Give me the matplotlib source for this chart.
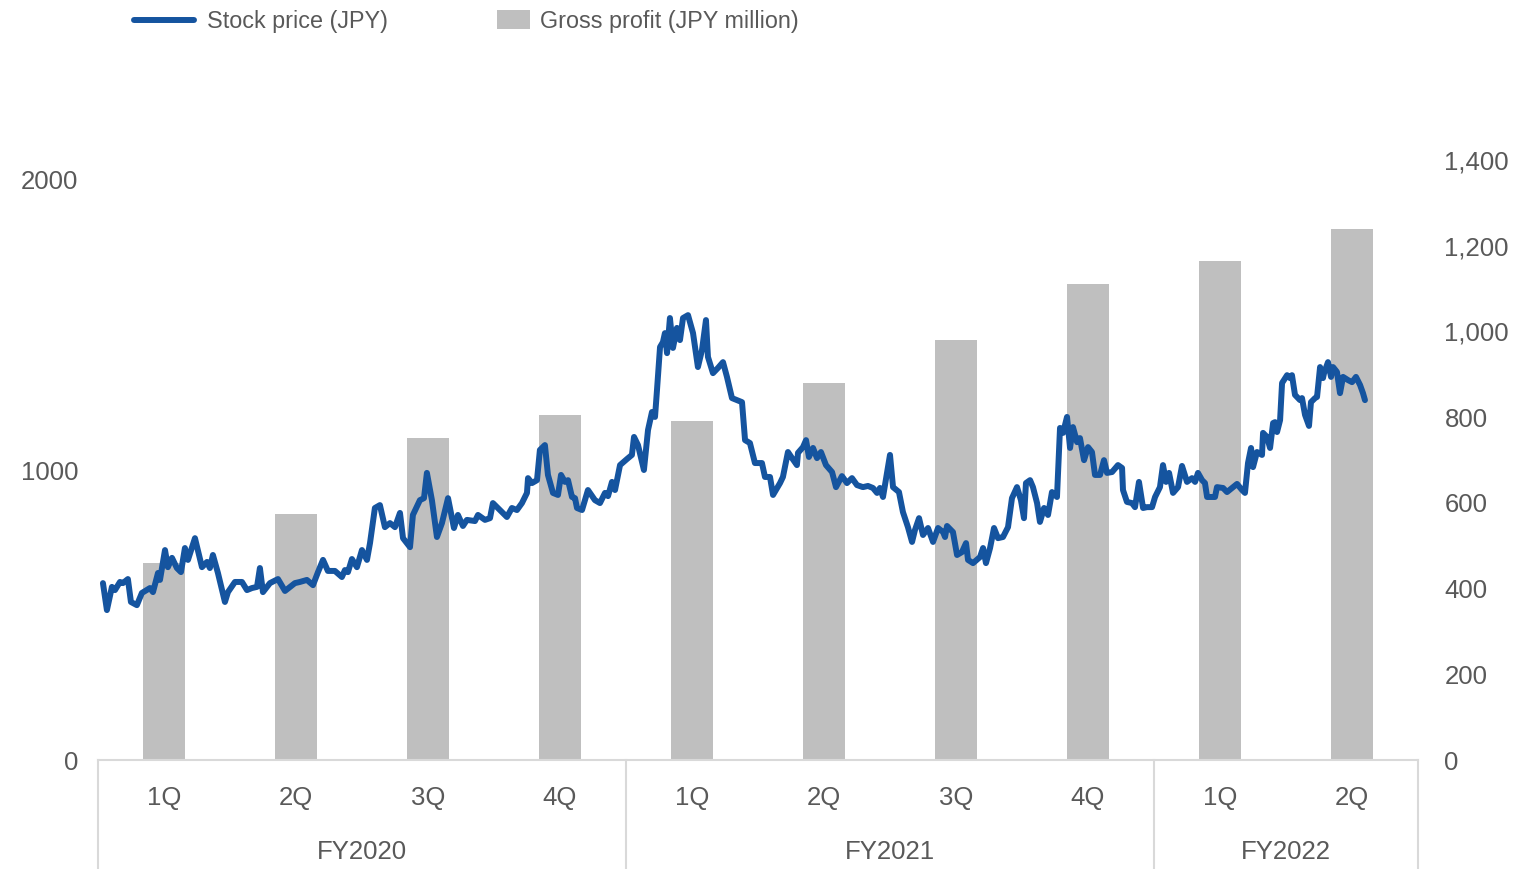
import matplotlib
matplotlib.use("Agg")
import matplotlib.pyplot as plt
from matplotlib.ticker import FuncFormatter

# quarterly gross profit (JPY million)
quarters = ["1Q", "2Q", "3Q", "4Q", "1Q", "2Q", "3Q", "4Q", "1Q", "2Q"]
fiscal_years = ["FY2020", "FY2021", "FY2022"]
fy_spans = [(0, 3), (4, 7), (8, 9)]
gross_profit = [460, 574, 751, 805, 791, 880, 980, 1111, 1164, 1239]

# stock price (JPY), time measured in quarters from the start of FY2020 1Q
price_t = [0.038, 0.068, 0.106, 0.129, 0.167, 0.189, 0.227, 0.250, 0.295, 0.333,
           0.394, 0.417, 0.455, 0.470, 0.508, 0.530, 0.561, 0.598, 0.629, 0.659,
           0.682, 0.735, 0.788, 0.826, 0.848, 0.871, 0.909, 0.962, 0.985, 1.038,
           1.091, 1.129, 1.167, 1.205, 1.227, 1.250, 1.303, 1.364, 1.417, 1.492,
           1.530, 1.583, 1.629, 1.667, 1.705, 1.742, 1.795, 1.848, 1.871, 1.894,
           1.924, 1.962, 2.000, 2.038, 2.061, 2.098, 2.136, 2.174, 2.212, 2.250,
           2.288, 2.311, 2.364, 2.386, 2.439, 2.470, 2.492, 2.530, 2.568, 2.606,
           2.652, 2.697, 2.727, 2.765, 2.795, 2.856, 2.879, 2.932, 2.970, 2.992,
           3.045, 3.098, 3.136, 3.174, 3.212, 3.250, 3.258, 3.288, 3.326, 3.348,
           3.386, 3.409, 3.447, 3.485, 3.508, 3.538, 3.561, 3.591, 3.614, 3.629,
           3.667, 3.712, 3.765, 3.803, 3.841, 3.864, 3.894, 3.917, 3.955, 4.008,
           4.045, 4.061, 4.091, 4.136, 4.167, 4.197, 4.220, 4.235, 4.258, 4.280,
           4.295, 4.311, 4.333, 4.356, 4.386, 4.409, 4.432, 4.470, 4.508, 4.545,
           4.576, 4.606, 4.621, 4.659, 4.697, 4.735, 4.765, 4.803, 4.841, 4.879,
           4.902, 4.939, 4.977, 5.030, 5.053, 5.091, 5.114, 5.167, 5.189, 5.227,
           5.258, 5.295, 5.303, 5.341, 5.364, 5.386, 5.417, 5.447, 5.477, 5.515,
           5.561, 5.591, 5.636, 5.674, 5.712, 5.750, 5.795, 5.833, 5.871, 5.902,
           5.924, 5.947, 6.000, 6.023, 6.068, 6.098, 6.136, 6.167, 6.189, 6.220,
           6.250, 6.288, 6.326, 6.364, 6.402, 6.417, 6.432, 6.477, 6.508, 6.545,
           6.576, 6.591, 6.629, 6.682, 6.705, 6.727, 6.758, 6.788, 6.818, 6.856,
           6.894, 6.924, 6.962, 6.992, 7.015, 7.030, 7.061, 7.083, 7.114, 7.136,
           7.167, 7.197, 7.227, 7.265, 7.288, 7.311, 7.341, 7.364, 7.386, 7.417,
           7.439, 7.470, 7.500, 7.530, 7.553, 7.591, 7.621, 7.644, 7.682, 7.727,
           7.758, 7.765, 7.795, 7.833, 7.856, 7.886, 7.917, 7.947, 7.985, 8.008,
           8.045, 8.068, 8.091, 8.114, 8.144, 8.182, 8.212, 8.250, 8.288, 8.311,
           8.333, 8.364, 8.386, 8.402, 8.462, 8.477, 8.523, 8.553, 8.591, 8.629,
           8.667, 8.689, 8.712, 8.735, 8.750, 8.780, 8.818, 8.826, 8.856, 8.879,
           8.902, 8.917, 8.932, 8.955, 8.970, 9.008, 9.030, 9.045, 9.068, 9.106,
           9.121, 9.144, 9.174, 9.189, 9.220, 9.235, 9.258, 9.280, 9.288, 9.318,
           9.341, 9.356, 9.386, 9.409, 9.432, 9.470, 9.500, 9.530, 9.561, 9.583,
           9.598]
price = [610, 517, 597, 586, 614, 610, 624, 545, 534, 576,
         593, 579, 645, 621, 724, 665, 697, 662, 648, 731,
         690, 765, 665, 683, 662, 707, 645, 545, 579, 614,
         614, 586, 593, 597, 662, 579, 610, 624, 583, 610,
         614, 621, 603, 648, 690, 652, 652, 631, 655, 648,
         693, 665, 724, 690, 748, 869, 879, 803, 817, 803,
         852, 765, 734, 845, 896, 903, 990, 896, 769, 817,
         903, 800, 845, 807, 828, 824, 845, 828, 834, 886,
         862, 838, 869, 862, 886, 921, 972, 955, 965, 1069,
         1086, 983, 921, 914, 983, 959, 965, 907, 903, 869,
         862, 931, 896, 886, 921, 910, 959, 931, 1017, 1038,
         1052, 1114, 1086, 1000, 1138, 1200, 1183, 1276, 1424, 1441,
         1472, 1403, 1524, 1421, 1490, 1448, 1524, 1534, 1472, 1355,
         1414, 1517, 1390, 1334, 1352, 1372, 1321, 1248, 1241, 1234,
         1103, 1093, 1024, 1024, 976, 976, 914, 955, 976, 1062,
         1041, 1017, 1059, 1079, 1103, 1045, 1076, 1041, 1062, 1017,
         993, 941, 979, 955, 972, 948, 941, 945, 938, 921,
         938, 907, 1052, 941, 924, 855, 803, 752, 793, 834,
         776, 800, 752, 800, 786, 769, 807, 786, 707, 717,
         748, 690, 679, 700, 731, 679, 731, 800, 765, 769,
         803, 903, 941, 896, 834, 955, 965, 941, 886, 821,
         869, 845, 924, 907, 1145, 1128, 1183, 1076, 1148, 1096,
         1110, 1034, 1079, 1062, 983, 983, 1034, 990, 993, 1017,
         1007, 931, 890, 886, 872, 959, 869, 872, 872, 907,
         941, 1017, 959, 990, 921, 941, 1014, 959, 972, 959,
         990, 965, 955, 907, 907, 941, 938, 924, 938, 952,
         931, 921, 1024, 1076, 1010, 1062, 1052, 1128, 1114, 1076,
         1162, 1165, 1131, 1172, 1300, 1327, 1317, 1327, 1259, 1241,
         1248, 1190, 1152, 1234, 1248, 1252, 1355, 1317, 1334, 1372,
         1321, 1355, 1338, 1265, 1321, 1310, 1303, 1321, 1293, 1265,
         1241]

txt_color = "#595959"
bar_color = "#BFBFBF"
line_color = "#15549F"
grid_color = "#D9D9D9"

plt.rcParams['font.family'] = ['Liberation Sans', 'DejaVu Sans']

fig = plt.figure(figsize=(15.35, 8.69), dpi=100)
ax = fig.add_axes([0.0638, 0.1254, 0.8600, 0.6905])
ax2 = ax.twinx()

xs = list(range(len(quarters)))
bars = ax2.bar(xs, gross_profit, width=0.32, color=bar_color, label="Gross profit (JPY million)")
line_x = [t - 0.5 for t in price_t]
ln, = ax.plot(line_x, price, color=line_color, lw=4.3, solid_joinstyle="round",
              solid_capstyle="round", label="Stock price (JPY)")

ax.set_zorder(ax2.get_zorder() + 1)
ax.patch.set_visible(False)

ax.set_xlim(-0.5, 9.5)
ax.set_ylim(0, 2069)
ax2.set_ylim(0, 1400)
ax.set_yticks([0, 1000, 2000])
ax2.set_yticks(range(0, 1401, 200))
ax2.yaxis.set_major_formatter(FuncFormatter(lambda v, p: f"{int(v):,}"))

for a in (ax, ax2):
    for s in a.spines.values():
        s.set_visible(False)
    a.tick_params(length=0, colors=txt_color, labelsize=18.5)
ax.tick_params(axis="y", pad=14)
ax2.tick_params(axis="y", pad=19)
ax.set_xticks([])

# multi-level category axis
trans = ax.get_xaxis_transform()
ax.plot([-0.5, 9.5], [0, 0], color=grid_color, lw=1.5, transform=trans, clip_on=False)
for xb in [-0.5, 3.5, 7.5, 9.5]:
    ax.plot([xb, xb], [0, -0.18], color=grid_color, lw=1.5, transform=trans, clip_on=False)
for i, q in enumerate(quarters):
    ax.text(i, -0.063, q, transform=trans, ha="center", va="center", fontsize=18.5, color=txt_color)
for fy, (a0, a1) in zip(fiscal_years, fy_spans):
    ax.text((a0 + a1) / 2, -0.154, fy, transform=trans, ha="center", va="center",
            fontsize=18.5, color=txt_color)

leg1 = fig.legend(handles=[ln], loc="upper left", bbox_to_anchor=(0.0735, 1.013),
                  frameon=False, labelcolor=txt_color, handlelength=2.6,
                  handletextpad=0.55, prop={"size": 16.8})
leg2 = fig.legend(handles=[bars], loc="upper left", bbox_to_anchor=(0.310, 1.013),
                  frameon=False, labelcolor=txt_color, handlelength=1.4, handleheight=0.9,
                  handletextpad=0.45, prop={"size": 16.8})

fig.savefig("out.png", dpi=100)
